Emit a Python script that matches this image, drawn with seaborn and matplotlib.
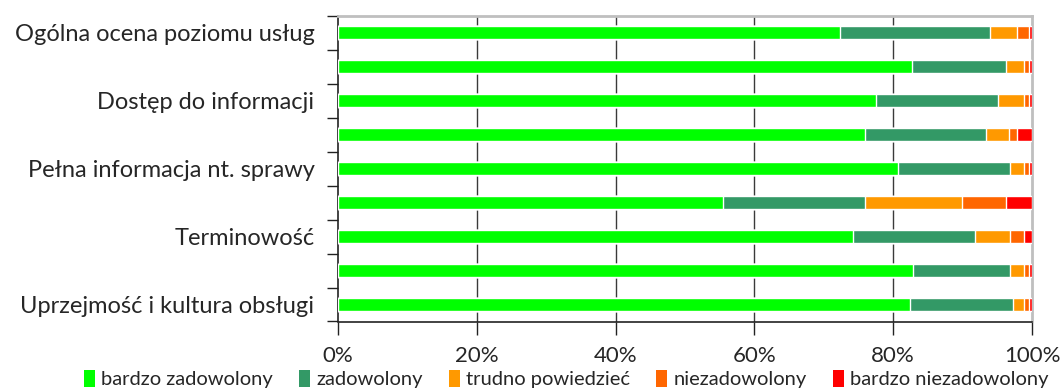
import numpy as np
import pandas as pd
import matplotlib
matplotlib.use("Agg")
import matplotlib.pyplot as plt
from matplotlib.patches import Patch
import seaborn as sns

# ---- data (percent of answers) ----
row_ids = ["r1", "r2", "r3", "r4", "r5", "r6", "r7", "r8", "r9"]
tick_labels = ["Ogólna ocena poziomu usług", "", "Dostęp do informacji", "",
               "Pełna informacja nt. sprawy", "", "Terminowość", "",
               "Uprzejmość i kultura obsługi"]
series_names = ["bardzo zadowolony", "zadowolony", "trudno powiedzieć",
                "niezadowolony", "bardzo niezadowolony"]
bardzo_zadowolony = [72.3, 82.7, 77.5, 76.0, 80.7, 55.5, 74.2, 82.9, 82.4]
zadowolony = [21.7, 13.5, 17.6, 17.4, 16.1, 20.4, 17.6, 13.9, 14.9]
trudno_powiedziec = [3.9, 2.7, 3.8, 3.3, 2.1, 14.0, 5.0, 2.1, 1.6]
niezadowolony = [1.6, 0.6, 0.6, 1.2, 0.6, 6.3, 2.1, 0.6, 0.6]
bardzo_niezadowolony = [0.5, 0.5, 0.5, 2.1, 0.5, 3.8, 1.1, 0.5, 0.5]
x_ticks = [0, 20, 40, 60, 80, 100]
x_tick_labels = ["0%", "20%", "40%", "60%", "80%", "100%"]

colors = ["#00FF00", "#339966", "#FF9900", "#FF6600", "#FF0000"]

sns.set_theme(style="white")
plt.rcParams["font.family"] = ["Lato", "DejaVu Sans"]
text_color = "#262626"

series = [bardzo_zadowolony, zadowolony, trudno_powiedziec, niezadowolony,
          bardzo_niezadowolony]
vals = np.array(series, dtype=float)
total = vals.sum(axis=0)
vals = vals / total * 100.0
cum = np.cumsum(vals, axis=0)

df = pd.DataFrame({"row": row_ids})
for i, name in enumerate(series_names):
    df[name] = cum[i]

fig = plt.figure(figsize=(10.64, 3.89), dpi=100)
ax = fig.add_axes([338 / 1064, 1 - 321.5 / 389, (1032 - 338) / 1064,
                   (321.5 - 15.7) / 389])

# vertical gridlines behind bars
for x in x_ticks[1:-1]:
    ax.axvline(x, color="#3a3a3a", lw=1.0, zorder=0)

for i in range(len(series_names) - 1, -1, -1):
    sns.barplot(data=df, x=series_names[i], y="row", order=row_ids,
                orient="h", color=colors[i], saturation=1, width=0.38,
                ax=ax, zorder=2 + (len(series_names) - i))

ax.set_xlim(0, 100)
ax.set_ylim(len(row_ids) - 0.5, -0.5)
ax.set_xlabel("")
ax.set_ylabel("")

ax.set_xticks(x_ticks)
ax.set_xticklabels(x_tick_labels, fontsize=16, color=text_color)
ax.tick_params(axis="x", direction="out", length=9, width=1, color="#222222",
               pad=9, bottom=True)

ax.set_yticks(range(len(row_ids)))
ax.set_yticklabels(tick_labels, fontsize=17, color=text_color)
ax.tick_params(axis="y", which="major", length=0, pad=17)
ax.set_yticks(np.arange(-0.5, len(row_ids), 1.0), minor=True)
ax.tick_params(axis="y", which="minor", direction="out", length=8, width=1,
               color="#222222", left=True)

for side in ["top", "right"]:
    ax.spines[side].set_color("#BFBFBF")
    ax.spines[side].set_linewidth(2)
for side in ["left", "bottom"]:
    ax.spines[side].set_color("#222222")
    ax.spines[side].set_linewidth(1.2)

handles = [Patch(facecolor=c, edgecolor="none", label=n)
           for c, n in zip(colors, series_names)]
fig.legend(handles=handles, loc="center", bbox_to_anchor=(0.532, 0.025),
           ncol=5, frameon=False, fontsize=14.5, handlelength=0.55,
           handleheight=0.9, handletextpad=0.3, columnspacing=1.3,
           labelcolor=text_color, borderpad=0)

fig.savefig("out.png", dpi=100)
